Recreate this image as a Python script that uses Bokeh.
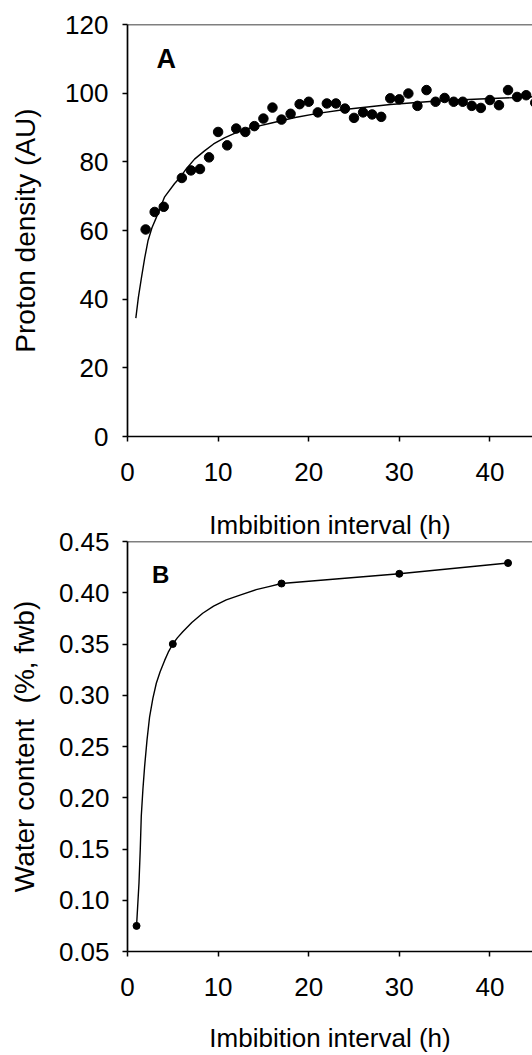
from bokeh.plotting import figure
from bokeh.layouts import column
from bokeh.models import (FixedTicker, Span, Label, PrintfTickFormatter, Range1d,
                          LinearAxis)
from bokeh.embed import file_html
from bokeh.resources import INLINE

# ---------------- data ----------------
# Panel A: proton density vs imbibition interval
a_hours = [2, 3, 4, 6, 7, 8, 9, 10, 11, 12, 13, 14, 15, 16, 17, 18, 19, 20, 21, 22,
           23, 24, 25, 26, 27, 28, 29, 30, 31, 32, 33, 34, 35, 36, 37, 38, 39, 40,
           41, 42, 43, 44, 45]
a_density = [60.3, 65.4, 66.9, 75.3, 77.5, 77.9, 81.3, 88.7, 84.8, 89.7, 88.7, 90.4,
             92.6, 95.8, 92.3, 94.0, 96.8, 97.5, 94.4, 97.0, 97.0, 95.5, 92.8, 94.4,
             93.8, 93.1, 98.5, 98.2, 99.9, 96.3, 100.9, 97.5, 98.6, 97.5, 97.5, 96.3,
             95.7, 98.0, 96.5, 100.9, 98.9, 99.4, 97.2]
# fitted curve of panel A
a_fit_x = [0.92, 1.2, 1.55, 1.9, 2.27, 2.7, 3.2, 4.1, 5.2, 5.85, 6.5, 7.4, 8.5, 9.5,
           10.7, 12.0, 13.3, 15.9, 18.5, 21.0, 24.2, 29.0, 34.5, 38.9, 44.4, 45.0]
a_fit_y = [34.5, 40.5, 46.4, 52.0, 57.1, 60.8, 63.9, 69.8, 73.7, 75.6, 78.0, 80.8,
           83.2, 85.2, 87.0, 88.5, 89.7, 91.3, 92.9, 94.1, 95.3, 96.7, 97.8, 98.3,
           98.9, 99.0]

# Panel B: water content vs imbibition interval
b_hours = [1, 5, 17, 30, 42]
b_water = [0.075, 0.350, 0.409, 0.4185, 0.429]
# smooth curve of panel B
b_fit_x = [1.0, 1.27, 1.41, 1.52, 1.7, 1.89, 2.15, 2.44, 2.8, 3.18, 3.6, 4.1, 4.5,
           5.0, 5.5, 6.1, 7.1, 8.3, 9.5, 10.9, 12.5, 14.2, 15.6, 17.0, 30.0, 42.0]
b_fit_y = [0.075, 0.117, 0.150, 0.182, 0.208, 0.2306, 0.256, 0.279, 0.297, 0.3117,
           0.323, 0.334, 0.342, 0.350, 0.356, 0.362, 0.371, 0.380, 0.387, 0.393,
           0.398, 0.403, 0.406, 0.409, 0.4185, 0.429]

x_ticks = [0, 10, 20, 30, 40, 50]
a_y_ticks = [0, 20, 40, 60, 80, 100, 120]
b_y_ticks = [0.05, 0.10, 0.15, 0.20, 0.25, 0.30, 0.35, 0.40, 0.45]

x_title = "Imbibition interval (h)"
a_y_title = "Proton density (AU)"
b_y_title = "Water content\u00a0 (%, fwb)"

FONT = "Liberation Sans"


def style(p, y_ticks, y_label_standoff, y_title, y_title_standoff):
    p.grid.visible = False
    p.outline_line_color = None
    p.background_fill_color = "white"
    p.border_fill_color = "white"
    for ax in (p.xaxis[0], p.yaxis[0]):
        ax.axis_line_color = "black"
        ax.axis_line_width = 1.7
        ax.major_tick_line_color = "black"
        ax.major_tick_line_width = 1.5
        ax.major_tick_in = 0
        ax.major_tick_out = 5
        ax.minor_tick_line_color = None
        ax.major_label_text_font = FONT
        ax.major_label_text_font_size = "26px"
        ax.major_label_text_color = "black"
        ax.axis_label_text_font = FONT
        ax.axis_label_text_font_style = "normal"
        ax.axis_label_text_color = "black"
    p.xaxis[0].ticker = FixedTicker(ticks=x_ticks)
    p.xaxis[0].major_label_standoff = 21
    p.yaxis[0].ticker = FixedTicker(ticks=y_ticks)
    p.yaxis[0].major_label_standoff = y_label_standoff
    p.yaxis[0].axis_label = y_title
    p.yaxis[0].axis_label_text_font_size = "28px"
    p.yaxis[0].axis_label_standoff = y_title_standoff


# ---------------- panel A ----------------
pA = figure(width=532, height=500, output_backend="svg", toolbar_location=None,
            x_range=Range1d(0, 44.7), y_range=Range1d(0, 120),
            min_border_left=127, min_border_right=0, min_border_top=24,
            min_border_bottom=64)
style(pA, a_y_ticks, 14, a_y_title, 21)
pA.add_layout(Span(location=120, dimension="width", line_color="black", line_width=1.7))
pA.line(a_fit_x, a_fit_y, line_color="black", line_width=1.4)
pA.scatter(a_hours, a_density, size=9.5, marker="circle", fill_color="black",
           line_color="black")
pA.add_layout(Label(x=3.2, y=110, text="A", text_font=FONT, text_font_size="27px",
                    text_font_style="bold", text_color="black",
                    text_baseline="alphabetic", text_align="left"))

# ---------------- panel B ----------------
pB = figure(width=532, height=555, output_backend="svg", toolbar_location=None,
            x_range=Range1d(0, 44.7), y_range=Range1d(0.05, 0.45),
            min_border_left=127, min_border_right=0, min_border_top=41,
            min_border_bottom=102)
style(pB, b_y_ticks, 13, b_y_title, 16)
pB.yaxis[0].formatter = PrintfTickFormatter(format="%.2f")
pB.xaxis[0].axis_label = x_title
pB.xaxis[0].axis_label_text_font_size = "26px"
pB.xaxis[0].axis_label_standoff = 24

# x-axis title of panel A sits just above panel B's frame
top_title = LinearAxis(ticker=FixedTicker(ticks=[]), axis_line_color=None,
                       major_tick_line_color=None, minor_tick_line_color=None,
                       major_label_text_font_size="0px", major_tick_out=0,
                       major_label_standoff=0, axis_label=x_title,
                       axis_label_standoff=2, axis_label_text_font=FONT,
                       axis_label_text_font_size="26px",
                       axis_label_text_font_style="normal",
                       axis_label_text_color="black")
pB.add_layout(top_title, "above")

pB.add_layout(Span(location=0.45, dimension="width", line_color="black", line_width=1.7))
pB.line(b_fit_x, b_fit_y, line_color="black", line_width=1.4)
pB.scatter(b_hours, b_water, size=7, marker="circle", fill_color="black",
           line_color="black")
pB.add_layout(Label(x=2.7, y=0.418, text="B", text_font=FONT, text_font_size="24px",
                    text_font_style="bold", text_color="black",
                    text_baseline="alphabetic", text_align="left"))

layout = column(pA, pB, spacing=0)
open("out.html", "w").write(file_html(layout, INLINE))
